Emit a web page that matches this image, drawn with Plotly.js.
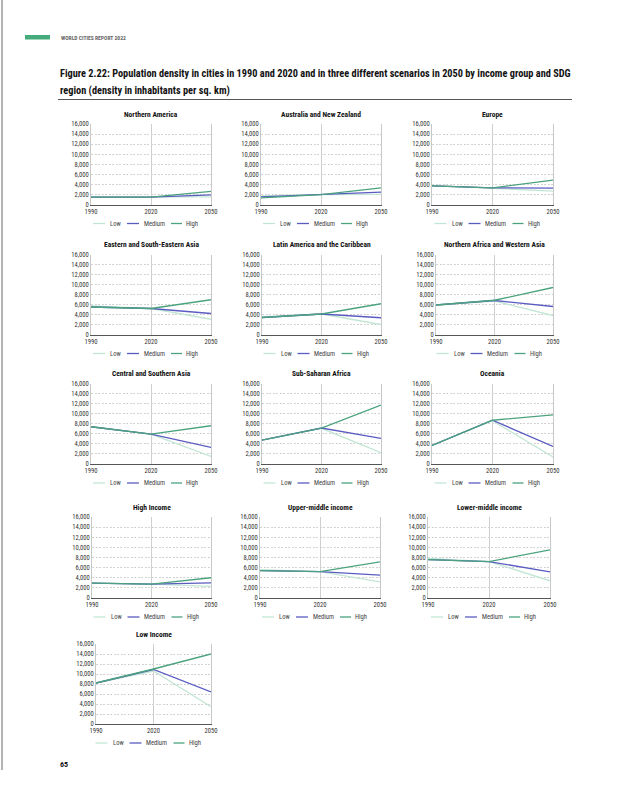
<!DOCTYPE html>
<html><head><meta charset="utf-8">
<script src="https://cdn.plot.ly/plotly-3.0.1.min.js"></script>
<style>html,body{margin:0;padding:0;background:#fff;}#chart{width:617px;height:786px;}</style>
</head><body><div id="chart"></div>
<script>
const years = [1990, 2020, 2050];
const panelTitles = [
  'Northern America', 'Australia and New Zealand', 'Europe',
  'Eastern and South-Eastern Asia', 'Latin America and the Caribbean', 'Northern Africa and Western Asia',
  'Central and Southern Asia', 'Sub-Saharan Africa', 'Oceania',
  'High Income', 'Upper-middle income', 'Lower-middle income',
  'Low Income'
];
const lowValues = [
  [1500, 1450, 1500], [1700, 1950, 2000], [3800, 3300, 2650],
  [5700, 5200, 3050], [3500, 4100, 2000], [5900, 6700, 3800],
  [7400, 5950, 1500], [4800, 7100, 2250], [3700, 8600, 1400],
  [2950, 2750, 2300], [5600, 5200, 3200], [7800, 7200, 3400],
  [8200, 10600, 3450]
];
const mediumValues = [
  [1450, 1450, 1900], [1500, 1950, 2450], [3700, 3300, 3250],
  [5500, 5200, 4200], [3400, 4100, 3350], [5900, 6800, 5600],
  [7400, 5950, 3300], [4750, 7150, 5100], [3700, 8700, 3500],
  [2950, 2750, 3000], [5400, 5200, 4500], [7600, 7200, 5150],
  [8200, 10900, 6400]
];
const highValues = [
  [1450, 1450, 2600], [1300, 1950, 3300], [3700, 3300, 4850],
  [5500, 5200, 6950], [3400, 4100, 6150], [5900, 6850, 9400],
  [7400, 5950, 7600], [4750, 7150, 11700], [3700, 8700, 9750],
  [2950, 2750, 4000], [5400, 5200, 7150], [7600, 7200, 9500],
  [8200, 11000, 14000]
];
const seriesNames = ['Low', 'Medium', 'High'];
const seriesColors = ['#c3e6d4', '#5a5cc2', '#4ba37e'];
const yTickValues = [0, 2000, 4000, 6000, 8000, 10000, 12000, 14000, 16000];
const yTickLabels = ['0', '2,000', '4,000', '6,000', '8,000', '10,000', '12,000', '14,000', '16,000'];
const titleLines = [
  'Figure 2.22: Population density in cities in 1990 and 2020 and in three different scenarios in 2050 by income group and SDG',
  'region (density in inhabitants per sq. km)'
];

// layout (pixel) geometry of each panel: [left, right, top, bottom]
const W = 617, H = 786;
const panelBoxes = [
  [91, 211, 124, 204.5], [261, 381, 124, 204.5], [432, 553, 124, 204.5],
  [91, 211, 254.5, 334.5], [262, 381, 254.5, 334.5], [436, 553, 254.5, 334.5],
  [91, 211, 383.5, 464], [262, 381, 383.5, 464], [432, 553, 383.5, 464],
  [92, 211, 517, 598], [260, 380, 517, 598], [428, 550, 517, 598],
  [96, 211, 644, 724]
];
// legend key geometry relative to panel centre: [lineStart, lineEnd, textStart]
const legendKeyOffsets = [[-58, -46, -43], [-24, -12, -9.5], [20, 31, 33]];
const px = x => x / W;
const py = y => 1 - y / H;
const FONT = '"Roboto Condensed", "Liberation Sans Narrow", Roboto, sans-serif';

const data = [];
const layout = {
  width: W, height: H,
  margin: {l: 0, r: 0, t: 0, b: 0},
  paper_bgcolor: '#fff', plot_bgcolor: '#fff',
  font: {family: FONT, size: 7, color: '#333'},
  showlegend: false,
  annotations: [], shapes: []
};

panelTitles.forEach((title, i) => {
  const n = i + 1;
  const sfx = n === 1 ? '' : String(n);
  const [l, r, t, b] = panelBoxes[i];
  const c = (l + r) / 2;
  const series = [lowValues[i], mediumValues[i], highValues[i]];
  series.forEach((vals, s) => {
    data.push({
      type: 'scatter', mode: 'lines',
      x: years, y: vals,
      name: seriesNames[s],
      line: {color: seriesColors[s], width: 1.3},
      xaxis: 'x' + sfx, yaxis: 'y' + sfx,
      hoverinfo: 'skip'
    });
    // legend key
    const [a0, a1, tx] = legendKeyOffsets[s];
    const ly = b + 19;
    layout.shapes.push({type: 'line', xref: 'paper', yref: 'paper',
      x0: px(c + a0), x1: px(c + a1), y0: py(ly), y1: py(ly),
      line: {color: seriesColors[s], width: 1.3}});
    layout.annotations.push({text: seriesNames[s], xref: 'paper', yref: 'paper',
      x: px(c + tx), y: py(ly), xanchor: 'left', yanchor: 'middle', showarrow: false,
      font: {family: FONT, size: 6.6, color: '#444'}});
  });
  layout['xaxis' + sfx] = {
    domain: [px(l), px(r)], anchor: 'y' + sfx,
    range: [1990, 2050], tickvals: years, ticktext: years.map(String),
    showgrid: true, gridcolor: '#cfcfcf', gridwidth: 0.8,
    showline: true, linecolor: '#555', linewidth: 1.3,
    zeroline: false, ticks: '', fixedrange: true,
    tickfont: {family: FONT, size: 6.6, color: '#333'}
  };
  layout['yaxis' + sfx] = {
    domain: [py(b), py(t)], anchor: 'x' + sfx,
    range: [0, 16000], tickvals: yTickValues, ticktext: yTickLabels,
    showgrid: true, gridcolor: '#d2d2d2', gridwidth: 0.8, griddash: '2px,1.5px',
    showline: true, linecolor: '#c8c8c8', linewidth: 0.8, mirror: true,
    zeroline: false, ticks: '', fixedrange: true,
    tickfont: {family: FONT, size: 6.6, color: '#333'}
  };
  layout.annotations.push({
    text: '<b>' + title + '</b>', xref: 'paper', yref: 'paper',
    x: px(c), y: py(t - 10), xanchor: 'center', yanchor: 'middle',
    showarrow: false, font: {family: FONT, size: 7.5, color: '#111'}
  });
});

// page decorations
layout.shapes.push(
  {type: 'rect', xref: 'paper', yref: 'paper', x0: px(25), x1: px(50), y0: py(39.5), y1: py(35), fillcolor: '#45ab7a', line: {width: 0}},
  {type: 'line', xref: 'paper', yref: 'paper', x0: px(58), x1: px(572), y0: py(99.5), y1: py(99.5), line: {color: '#555', width: 1.2}},
  {type: 'line', xref: 'paper', yref: 'paper', x0: px(2), x1: px(2), y0: py(0), y1: py(770), line: {color: '#9a9a9a', width: 1.5}}
);
layout.annotations.push(
  {text: '<b>WORLD CITIES REPORT 2022</b>', xref: 'paper', yref: 'paper', x: px(59), y: py(37.5),
   xanchor: 'left', yanchor: 'middle', showarrow: false, font: {family: FONT, size: 5.6, color: '#666'}},
  {text: '<b>' + titleLines[0] + '</b>', xref: 'paper', yref: 'paper', x: px(58), y: py(73.5),
   xanchor: 'left', yanchor: 'middle', align: 'left', showarrow: false, font: {family: FONT, size: 10.3, color: '#111'}},
  {text: '<b>' + titleLines[1] + '</b>', xref: 'paper', yref: 'paper', x: px(58), y: py(90.5),
   xanchor: 'left', yanchor: 'middle', align: 'left', showarrow: false, font: {family: FONT, size: 10.3, color: '#111'}},
  {text: '<b>65</b>', xref: 'paper', yref: 'paper', x: px(58), y: py(764), xanchor: 'left', yanchor: 'middle',
   showarrow: false, font: {family: FONT, size: 8, color: '#111'}}
);

Plotly.newPlot('chart', data, layout, {displayModeBar: false});
</script></body></html>
